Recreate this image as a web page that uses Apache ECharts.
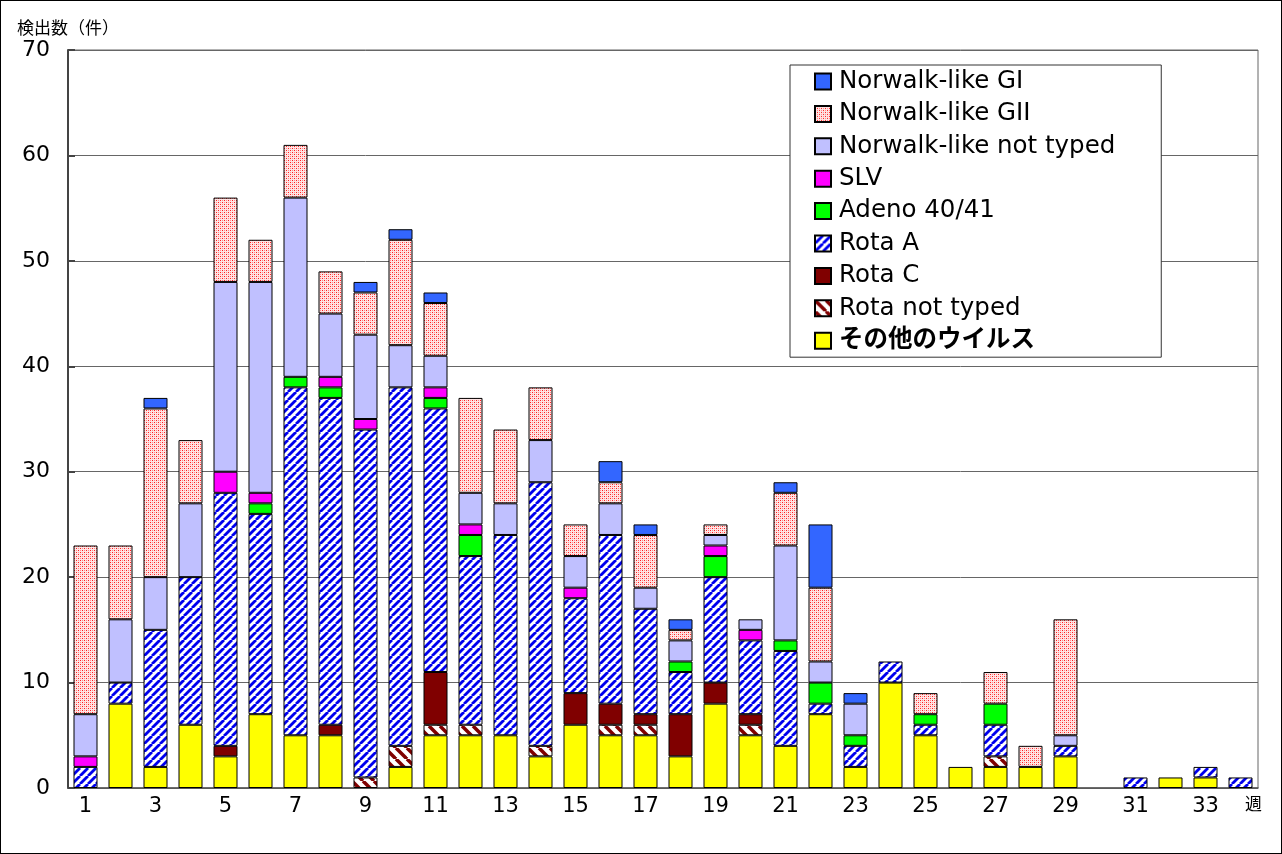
<!DOCTYPE html>
<html><head><meta charset="utf-8">
<script src="https://cdn.jsdelivr.net/npm/echarts@6/dist/echarts.min.js"></script>
<style>
html,body{margin:0;padding:0;background:#fff;}
#frame{position:absolute;left:0;top:0;width:1280px;height:852px;border:1px solid #000;}
#chart{position:absolute;left:0;top:0;width:1282px;height:854px;}
</style></head>
<body><div id="frame"></div><div id="chart"></div>
<script>
const categories = ['1','2','3','4','5','6','7','8','9','10','11','12','13','14','15','16','17','18','19','20','21','22','23','24','25','26','27','28','29','30','31','32','33','34'];
const otherVirus = [0,8,2,6,3,7,5,5,0,2,5,5,5,3,6,5,5,3,8,5,4,7,2,10,5,2,2,2,3,0,0,1,1,0];
const rotaNotTyped = [0,0,0,0,0,0,0,0,1,2,1,1,0,1,0,1,1,0,0,1,0,0,0,0,0,0,1,0,0,0,0,0,0,0];
const rotaC = [0,0,0,0,1,0,0,1,0,0,5,0,0,0,3,2,1,4,2,1,0,0,0,0,0,0,0,0,0,0,0,0,0,0];
const rotaA = [2,2,13,14,24,19,33,31,33,34,25,16,19,25,9,16,10,4,10,7,9,1,2,2,1,0,3,0,1,0,1,0,1,1];
const adeno = [0,0,0,0,0,1,1,1,0,0,1,2,0,0,0,0,0,1,2,0,1,2,1,0,1,0,2,0,0,0,0,0,0,0];
const slv = [1,0,0,0,2,1,0,1,1,0,1,1,0,0,1,0,0,0,1,1,0,0,0,0,0,0,0,0,0,0,0,0,0,0];
const nlvNotTyped = [4,6,5,7,18,20,17,6,8,4,3,3,3,4,3,3,2,2,1,1,9,2,3,0,0,0,0,0,1,0,0,0,0,0];
const nlvGII = [16,7,16,6,8,4,5,4,4,10,5,9,7,5,3,2,5,1,1,0,5,7,0,0,2,0,3,2,11,0,0,0,0,0];
const nlvGI = [0,0,1,0,0,0,0,0,1,1,1,0,0,0,0,2,1,1,0,0,1,6,1,0,0,0,0,0,0,0,0,0,0,0];
const yTicks = [0,10,20,30,40,50,60,70];

function stripe(color, size, dir, lw){
  const c = document.createElement('canvas'); c.width = size; c.height = size;
  const g = c.getContext('2d');
  g.fillStyle = '#fff'; g.fillRect(0,0,size,size);
  g.strokeStyle = color; g.lineWidth = lw;
  for (let k=-1;k<=1;k++){
    g.beginPath();
    if (dir === '/') { g.moveTo(k*size, size); g.lineTo(k*size+size, 0); }
    else { g.moveTo(k*size, 0); g.lineTo(k*size+size, size); }
    g.stroke();
  }
  return c;
}
function dots(){
  const c = document.createElement('canvas'); c.width = 4; c.height = 4;
  const g = c.getContext('2d');
  g.fillStyle = '#ffe4e4'; g.fillRect(0,0,4,4);
  g.fillStyle = '#ff2020';
  g.fillRect(0,0,1,1); g.fillRect(2,2,1,1);
  g.fillStyle = '#ff8a8a';
  g.fillRect(2,0,1,1); g.fillRect(0,2,1,1);
  return c;
}
const patRotaA = {image: stripe('#0000ee', 8, '/', 2.8), repeat: 'repeat'};
const patRotaNT = {image: stripe('#800000', 11, '\\', 3.5), repeat: 'repeat'};
const patGII = {image: dots(), repeat: 'repeat'};

const seriesDefs = [
  {name:'その他のウイルス', data: otherVirus, color:'#ffff00'},
  {name:'Rota not typed', data: rotaNotTyped, color: patRotaNT},
  {name:'Rota C', data: rotaC, color:'#800000'},
  {name:'Rota A', data: rotaA, color: patRotaA},
  {name:'Adeno 40/41', data: adeno, color:'#00ff00'},
  {name:'SLV', data: slv, color:'#ff00ff'},
  {name:'Norwalk-like not typed', data: nlvNotTyped, color:'#c0c0ff'},
  {name:'Norwalk-like GII', data: nlvGII, color: patGII},
  {name:'Norwalk-like GI', data: nlvGI, color:'#3366ff'}
];

const FONT = "'DejaVu Sans', 'Noto Sans CJK JP', sans-serif";
const chart = echarts.init(document.getElementById('chart'), null, {renderer:'canvas'});
chart.setOption({
  animation: false,
  textStyle: {fontFamily: FONT},
  grid: {left: 68, right: 24, top: 50, bottom: 66, show: true, borderColor: '#666', borderWidth: 1},
  legend: {
    orient: 'vertical', left: 790, top: 65,
    data: [
      'Norwalk-like GI','Norwalk-like GII','Norwalk-like not typed','SLV','Adeno 40/41','Rota A','Rota C','Rota not typed',
      {name:'その他のウイルス', textStyle:{fontWeight:'bold'}}
    ],
    icon: 'rect', itemWidth: 16, itemHeight: 16, itemGap: 7.4,
    padding: [4, 46, 4, 24],
    backgroundColor: '#fff', borderColor: '#333', borderWidth: 1,
    textStyle: {fontFamily: FONT, fontSize: 24.5, color: '#000', lineHeight: 25, padding: [0,0,0,3]},
    selectedMode: false
  },
  xAxis: {
    type: 'category', data: categories,
    name: '週', nameLocation: 'end', nameGap: -13,
    nameTextStyle: {fontFamily: "'Noto Sans CJK JP'", fontSize: 17, color:'#000', verticalAlign: 'top', padding: [7,0,0,0]},
    axisLine: {lineStyle: {color: '#555', width: 1.5}},
    axisTick: {inside: true, length: 5, lineStyle: {color:'#555'}},
    axisLabel: {interval: 1, fontSize: 21, color: '#000', margin: 8}
  },
  yAxis: {
    type: 'value', min: yTicks[0], max: yTicks[yTicks.length-1], interval: 10,
    name: '検出数（件）', nameLocation: 'end', nameGap: 14,
    nameTextStyle: {fontFamily: "'Noto Sans CJK JP'", fontSize: 17, color: '#000', align: 'center'},
    axisLine: {show: true, lineStyle: {color: '#444', width: 2}},
    axisTick: {show: true, inside: true, length: 7, lineStyle: {color: '#444', width: 2}},
    axisLabel: {fontSize: 22, color: '#000', margin: 18},
    splitLine: {lineStyle: {color: '#666', width: 1}}
  },
  series: seriesDefs.map(s => ({
    name: s.name, type: 'bar', stack: 'all', barWidth: 24,
    data: s.data.map(v => v === 0 ? '-' : v),
    itemStyle: {color: s.color, borderColor: '#000', borderWidth: 1},
    emphasis: {disabled: true}
  }))
});
</script>
</body></html>
